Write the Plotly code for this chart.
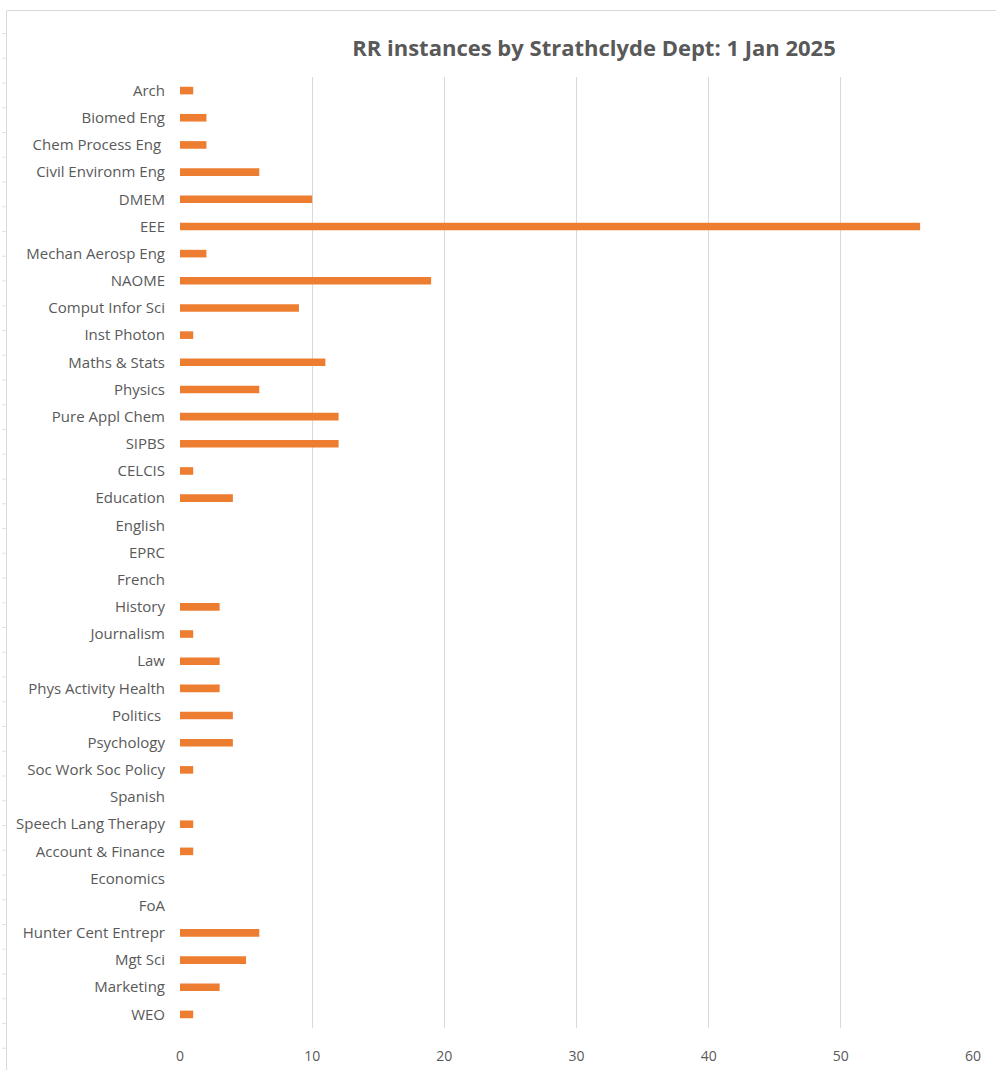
import plotly.graph_objects as go

departments = [
    "Arch", "Biomed Eng", "Chem Process Eng ", "Civil Environm Eng", "DMEM", "EEE",
    "Mechan Aerosp Eng", "NAOME", "Comput Infor Sci", "Inst Photon", "Maths & Stats",
    "Physics", "Pure Appl Chem", "SIPBS", "CELCIS", "Education", "English", "EPRC",
    "French", "History", "Journalism", "Law", "Phys Activity Health", "Politics ",
    "Psychology", "Soc Work Soc Policy", "Spanish", "Speech Lang Therapy",
    "Account & Finance", "Economics", "FoA", "Hunter Cent Entrepr", "Mgt Sci",
    "Marketing", "WEO",
]
instances = [
    1, 2, 2, 6, 10, 56,
    2, 19, 9, 1, 11,
    6, 12, 12, 1, 4, 0, 0,
    0, 3, 1, 3, 3, 4,
    4, 1, 0, 1,
    1, 0, 0, 6, 5,
    3, 1,
]
x_ticks = [0, 10, 20, 30, 40, 50, 60]

W, H = 996, 1070
ML, MR, MT, MB = 180, 23, 77, 42
PW, PH = W - ML - MR, H - MT - MB


def px_x(px):
    return (px - ML) / PW


def px_y(py):
    return 1 - (py - MT) / PH


fig = go.Figure()
fig.add_trace(go.Bar(
    y=departments,
    x=instances,
    orientation="h",
    width=0.28,
    marker=dict(color="#ED7D31", line=dict(width=0)),
    showlegend=False,
))

FONT = "Open Sans"
fig.update_layout(
    width=W,
    height=H,
    paper_bgcolor="white",
    plot_bgcolor="white",
    margin=dict(l=ML, r=MR, t=MT, b=MB),
    title=dict(
        text="<b>RR instances by Strathclyde Dept: 1 Jan 2025</b>",
        x=594 / W, xanchor="center",
        y=1 - 48 / H, yanchor="middle",
        font=dict(family=FONT, size=22, color="#595959"),
    ),
    font=dict(family=FONT, size=15, color="#595959"),
    bargap=0.7,
)
fig.update_xaxes(
    range=[0, 60],
    tickvals=x_ticks,
    showgrid=True,
    gridcolor="#D9D9D9",
    gridwidth=1,
    zeroline=False,
    showline=False,
    ticks="",
    ticklabelstandoff=18,
    automargin=False,
    tickfont=dict(family=FONT, size=14, color="#595959"),
    fixedrange=True,
)
fig.update_yaxes(
    autorange="reversed",
    categoryorder="array",
    categoryarray=departments,
    showgrid=False,
    zeroline=False,
    showline=False,
    ticks="",
    ticklabelstandoff=14,
    automargin=False,
    tickfont=dict(family=FONT, size=15, color="#595959"),
    fixedrange=True,
)
# chart-area frame
frame = dict(color="#D9D9D9", width=1)
fig.add_shape(type="line", xref="paper", yref="paper",
              x0=px_x(6.5), x1=px_x(W + 5), y0=px_y(10.5), y1=px_y(10.5), line=frame)
fig.add_shape(type="line", xref="paper", yref="paper",
              x0=px_x(6.5), x1=px_x(6.5), y0=px_y(10.5), y1=px_y(H + 5), line=frame)
# spreadsheet row marks peeking at the left edge
row_y = 33.5
while row_y < H:
    fig.add_shape(type="line", xref="paper", yref="paper",
                  x0=px_x(2), x1=px_x(6.5), y0=px_y(row_y), y1=px_y(row_y),
                  line=dict(color="#E3E3E3", width=1))
    row_y += 24.75

fig.write_html("out.html")
